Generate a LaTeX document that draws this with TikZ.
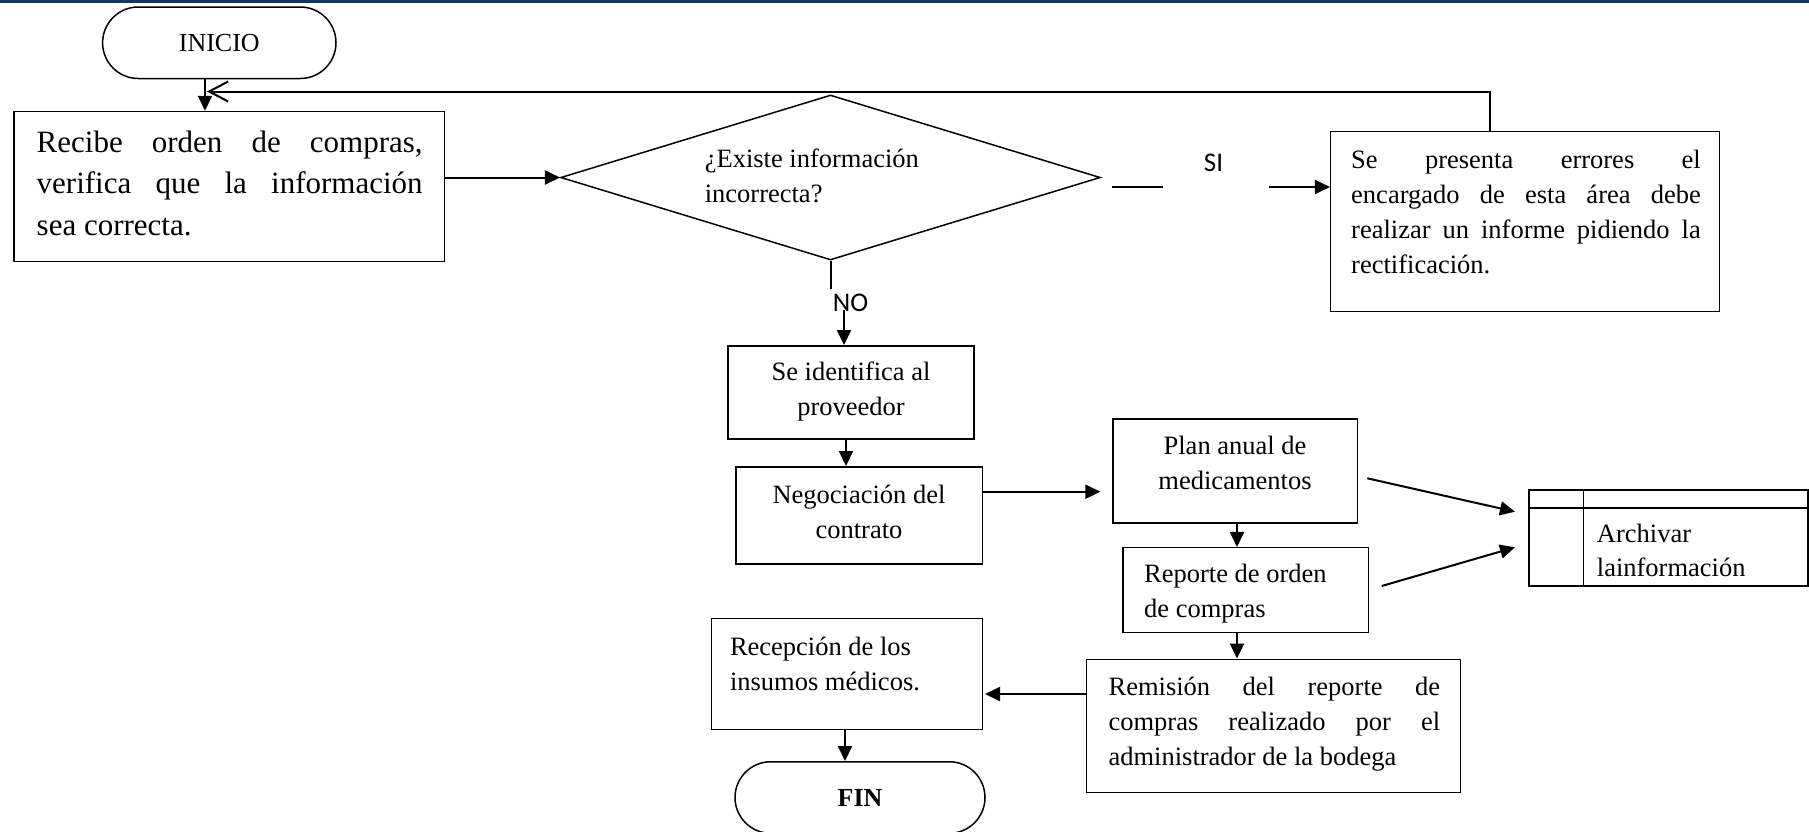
\documentclass[tikz,border=0pt]{standalone}
\usepackage{fontspec}
\setmainfont{Liberation Serif}
\newfontfamily\calib{Carlito}
\usetikzlibrary{arrows.meta,shapes.geometric,shapes.misc}
\definecolor{navy}{RGB}{23,54,93}
\newcommand{\jl}[2]{\makebox[#1][s]{\strut #2}}
\begin{document}
\begin{tikzpicture}[x=1pt,y=-1pt,
  box/.style={draw, line width=1.5pt, inner sep=0pt, rectangle},
  term/.style={draw, line width=1.5pt, rounded rectangle, inner sep=0pt, font=\fontsize{26}{30}\selectfont},
  arr/.style={line width=2pt, -{Triangle[length=15pt,width=14pt]}},
  ln/.style={line width=2pt},
  txt/.style={inner sep=0pt, anchor=north west, align=left, font=\fontsize{26.5}{35}\selectfont},
  ctxt/.style={inner sep=0pt, anchor=north, align=center, font=\fontsize{26.5}{35}\selectfont},
  sino/.style={inner sep=0pt, font=\calib\fontsize{27}{30}\selectfont}]
\useasboundingbox (0,0) rectangle (1809,831);
\fill[navy] (0,0) rectangle (1809,2.5);

% shapes
\node[term, minimum width=233.4pt, minimum height=71.5pt] (inicio) at (219.3,42.75) {INICIO};
\node[box, minimum width=430.5pt, minimum height=150pt] (recibe) at (229.25,186.5) {};
\node[draw, line width=1.5pt, diamond, inner sep=0pt, minimum width=539.6pt, minimum height=165pt] (dia) at (830.5,177.5) {};
\node[box, minimum width=388.9pt, minimum height=180pt] (presenta) at (1525.15,221.7) {};
\node[box, minimum width=246.3pt, minimum height=93.3pt] (ident) at (850.9,392.4) {};
\node[box, minimum width=246.9pt, minimum height=97.3pt] (negoc) at (859.2,515.4) {};
\node[box, minimum width=244.6pt, minimum height=103.7pt] (plan) at (1235.3,470.9) {};
\node[box, minimum width=245.6pt, minimum height=84.6pt] (reporte) at (1245.8,590) {};
\node[box, minimum width=374pt, minimum height=133.4pt] (remision) at (1273.4,726) {};
\node[box, minimum width=270.9pt, minimum height=111pt] (recep) at (846.9,673.8) {};
\node[box, minimum width=279pt, minimum height=96pt] (archivo) at (1668.5,538) {};
\draw[line width=1.5pt] ([yshift=-18.5pt]archivo.north west) -- ([yshift=-18.5pt]archivo.north east);
\draw[line width=1.5pt] ([xshift=55pt]archivo.north west) -- ([xshift=55pt]archivo.south west);
\node[term, minimum width=250pt, minimum height=71.5pt] (fin) at (860,797.5) {\bfseries FIN};

% texts
\node[txt, font=\fontsize{31}{41.5}\selectfont] (trecibe) at (36.5,122.9)
  {\jl{386pt}{Recibe orden de compras,}\\\jl{386pt}{verifica que la información}\\\strut sea correcta.};
\node[txt] (tdia) at (704.6,142.5) {\strut ¿Existe información\\\strut incorrecta?};
\node[txt] (tpresenta) at (1351,143.5)
  {\jl{349.6pt}{Se presenta errores el}\\\jl{349.6pt}{encargado de esta área debe}\\\jl{349.6pt}{realizar un informe pidiendo la}\\\strut rectificación.};
\node[ctxt] (tident) at (851,355.5) {\strut Se identifica al\\\strut proveedor};
\node[ctxt] (tnegoc) at (859,478.5) {\strut Negociación del\\\strut contrato};
\node[ctxt] (tplan) at (1235,429.5) {\strut Plan anual de\\\strut medicamentos};
\node[txt] (treporte) at (1144,557.5) {\strut Reporte de orden\\\strut de compras};
\node[txt] (tremision) at (1108.4,670.5)
  {\jl{331.6pt}{Remisión del reporte de}\\\jl{331.6pt}{compras realizado por el}\\\strut administrador de la bodega};
\node[txt] (trecep) at (729.8,630.5) {\strut Recepción de los\\\strut insumos médicos.};
\node[txt, font=\fontsize{26.5}{34}\selectfont] (tarch) at (1596.7,518.2) {\strut Archivar\\\strut lainformación};
\node[sino] (si) at (1213.5,162.5) {SI};
\node[sino] (no) at (850.6,302.7) {NO};

% connectors
\coordinate (cx1) at (205,0);
\draw[arr] (inicio.south -| cx1) -- (recibe.north -| cx1);
\coordinate (fbx) at (1490,0);
\coordinate (fbtip) at (207,91.5);
\draw[ln, -{Straight Barb[length=19pt,width=20pt]}] (presenta.north -| fbx) |- (fbtip);
\draw[arr] (recibe.east |- dia.west) -- (dia.west);
\coordinate (s1) at (1112,187);
\coordinate (s2) at (1163,187);
\coordinate (s3) at (1269,187);
\draw[ln] (s1) -- (s2);
\draw[arr] (s3) -- (s3 -| presenta.west);
\draw[ln] (dia.south) -- ++(0,28);
\coordinate (n1) at (844,310);
\draw[arr] (n1) -- (n1 |- ident.north);
\coordinate (c2) at (846,0);
\draw[arr] (ident.south -| c2) -- (negoc.north -| c2);
\coordinate (c3e) at (1100.4,491.7);
\draw[arr] (c3e -| negoc.east) -- (c3e);
\coordinate (c4) at (1237,0);
\draw[arr] (plan.south -| c4) -- (reporte.north -| c4);
\draw[arr] (reporte.south -| c4) -- (remision.north -| c4);
\coordinate (c5) at (985,694);
\draw[arr] (c5 -| remision.west) -- (c5);
\coordinate (c6) at (845,0);
\draw[arr] (recep.south -| c6) -- (fin.north -| c6);
\coordinate (a1) at (1367.3,478.3);
\coordinate (a2) at (1515,511.7);
\coordinate (a3) at (1381.7,586);
\coordinate (a4) at (1515,547.3);
\draw[arr] (a1) -- (a2);
\draw[arr] (a3) -- (a4);
\end{tikzpicture}
\end{document}
